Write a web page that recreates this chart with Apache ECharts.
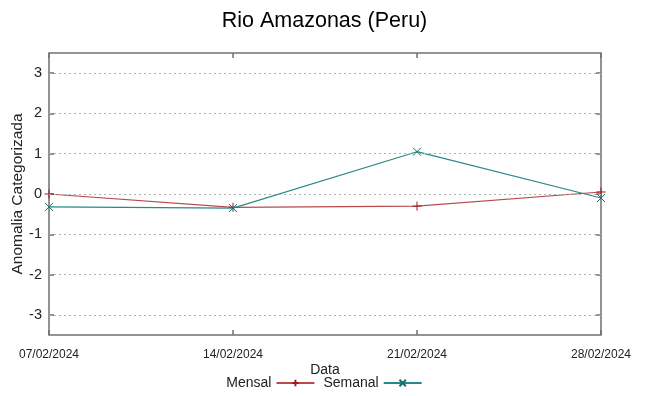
<!DOCTYPE html>
<html style="height: 100%">
<head>
    <meta charset="utf-8">
    <script type="text/javascript" src="https://cdn.jsdelivr.net/npm/echarts@6/dist/echarts.min.js"></script>
    <title>Rio Amazonas (Peru)</title>
</head>
<body style="height: 100%; margin: 0; background: #fff">
<div id="container" style="width: 649px; height: 396px"></div>
</body>
<script type="text/javascript">
    // dados
    let dates = ['07/02/2024', '14/02/2024', '21/02/2024', '28/02/2024'];
    let mensal = [0.0, -0.33, -0.3, 0.05];
    let semanal = [-0.32, -0.35, 1.05, -0.1];
    let yTicks = [-3, -2, -1, 0, 1, 2, 3];

    let dom = document.getElementById("container");
    let myChart = echarts.init(dom);
    let font = 'Liberation Sans, Arial, sans-serif';
    let borderColor = '#707070';

    let option = {
        backgroundColor: '#fff',
        textStyle: {fontFamily: font},
        title: {
            text: 'Rio Amazonas (Peru)',
            left: 'center',
            top: 5,
            textStyle: {fontSize: 21.5, fontWeight: 'normal', color: '#000', fontFamily: font}
        },
        legend: {
            bottom: 1,
            left: 'center',
            align: 'right',
            itemWidth: 38,
            itemHeight: 8,
            itemGap: 8,
            textStyle: {fontSize: 14, color: '#222', fontFamily: font},
            data: ['Mensal', 'Semanal']
        },
        grid: {
            left: 49, right: 48, top: 53, bottom: 61,
            containLabel: false,
            outerBoundsMode: 'none',
            show: true,
            borderColor: borderColor,
            borderWidth: 1.5
        },
        xAxis: [{
            type: 'category',
            data: dates,
            boundaryGap: false,
            name: 'Data',
            nameLocation: 'middle',
            nameGap: 28,
            nameMoveOverlap: false,
            nameTextStyle: {fontSize: 14, color: '#222'},
            axisLine: {show: false, onZero: false},
            axisTick: {show: true, inside: true, length: 5, lineStyle: {color: borderColor, width: 1.5}},
            axisLabel: {fontSize: 12, color: '#222', margin: 14},
            splitLine: {show: false}
        }, {
            type: 'category',
            data: dates,
            boundaryGap: false,
            position: 'top',
            axisLine: {show: false, onZero: false},
            axisTick: {show: true, inside: true, length: 5, lineStyle: {color: borderColor, width: 1.5}},
            axisLabel: {show: false},
            splitLine: {show: false}
        }],
        yAxis: [{
            type: 'value',
            min: -3.5,
            max: 3.5,
            name: 'Anomalia Categorizada',
            nameLocation: 'middle',
            nameGap: 23,
            nameMoveOverlap: false,
            nameTextStyle: {fontSize: 15.5, color: '#222'},
            axisLine: {show: false},
            axisTick: {show: true, inside: true, length: 5, customValues: yTicks,
                lineStyle: {color: borderColor, width: 1.5}},
            axisLabel: {fontSize: 14.5, color: '#222', margin: 7, customValues: yTicks},
            splitLine: {show: false}
        }, {
            type: 'value',
            min: -3.5,
            max: 3.5,
            position: 'right',
            axisLine: {show: false},
            axisTick: {show: true, inside: true, length: 5, customValues: yTicks,
                lineStyle: {color: borderColor, width: 1.5}},
            axisLabel: {show: false},
            splitLine: {show: false}
        }],
        series: [{
            name: 'Mensal',
            type: 'line',
            data: mensal,
            symbol: 'path://M0,-5L0,5M-5,0L5,0',
            symbolSize: 9,
            showAllSymbol: true,
            z: 3,
            lineStyle: {color: '#b84a4a', width: 1.2},
            itemStyle: {color: 'none', borderColor: '#a01818', borderWidth: 1},
            markLine: {
                silent: true,
                symbol: 'none',
                label: {show: false},
                lineStyle: {color: '#b0b0b0', type: [2, 3], width: 1},
                data: yTicks.map(function (v) { return {yAxis: v}; })
            }
        }, {
            name: 'Semanal',
            type: 'line',
            data: semanal,
            symbol: 'path://M-5,-5L5,5M-5,5L5,-5',
            symbolSize: 8,
            showAllSymbol: true,
            z: 4,
            lineStyle: {color: '#2a8888', width: 1.2},
            itemStyle: {color: 'none', borderColor: '#107070', borderWidth: 1}
        }]
    };
    myChart.setOption(option);
</script>
</html>
